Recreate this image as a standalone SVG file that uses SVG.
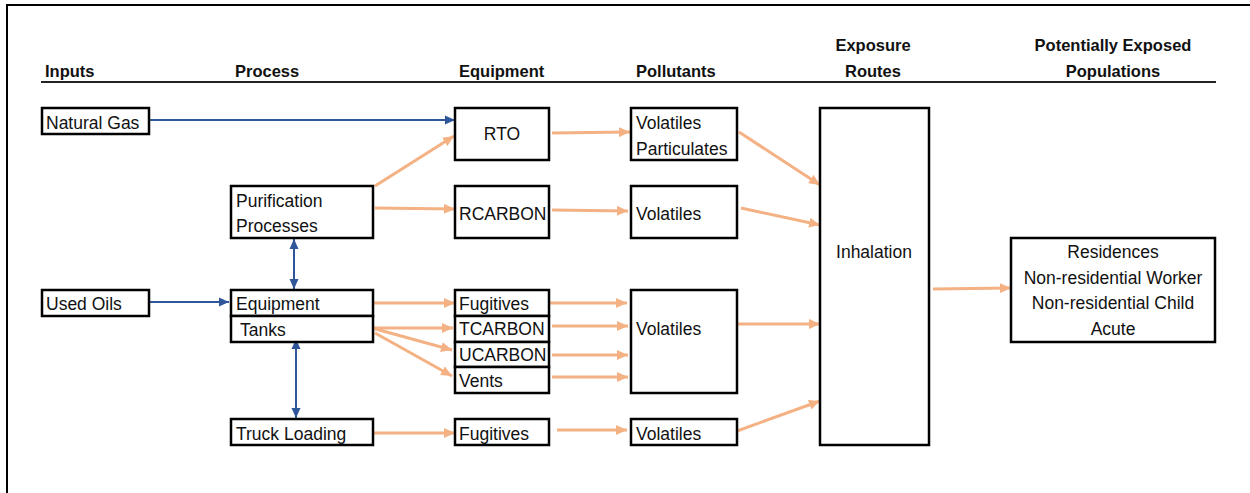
<svg xmlns="http://www.w3.org/2000/svg" width="1250" height="493" viewBox="0 0 1250 493">
<style>
  .box { fill: #ffffff; stroke: #000000; stroke-width: 2.5; }
  .t { font-family: "Liberation Sans", Arial, sans-serif; font-size: 17.5px; fill: #111111; }
  .c { text-anchor: middle; }
  .h { font-family: "Liberation Sans", Arial, sans-serif; font-size: 16.5px; font-weight: bold; fill: #111111; }
  .blue { stroke: #2F559A; stroke-width: 2; fill: none; }
  .orange { stroke: #F4B183; stroke-width: 3; fill: none; }
</style>
<defs>
  <marker id="ab" markerUnits="userSpaceOnUse" markerWidth="10" markerHeight="10" refX="10" refY="5" orient="auto-start-reverse">
    <path d="M0,0.5 L10,5 L0,9.5 z" fill="#2F559A"/>
  </marker>
  <marker id="ao" markerUnits="userSpaceOnUse" markerWidth="12" markerHeight="10" refX="11" refY="5" orient="auto">
    <path d="M0,0 L11,5 L0,10 z" fill="#F4B183"/>
  </marker>
</defs>
<rect width="1250" height="493" fill="#ffffff"/>
<path d="M7,493 L7,5 L1250,5" fill="none" stroke="#000" stroke-width="2"/>
<g id="headers">
  <text class="h" x="45" y="77">Inputs</text>
  <text class="h" x="235" y="77">Process</text>
  <text class="h" x="459" y="77">Equipment</text>
  <text class="h" x="636" y="77">Pollutants</text>
  <text class="h c" x="873" y="51">Exposure</text>
  <text class="h c" x="873" y="77">Routes</text>
  <text class="h c" x="1113" y="51">Potentially Exposed</text>
  <text class="h c" x="1113" y="77">Populations</text>
  <line x1="41" y1="82" x2="1216" y2="82" stroke="#222" stroke-width="2"/>
</g>
<g id="connectors">
  <line class="blue" x1="149" y1="120" x2="455" y2="120" marker-end="url(#ab)"/>
  <line class="blue" x1="145" y1="302" x2="229" y2="302" marker-end="url(#ab)"/>
  <line class="blue" x1="294" y1="239" x2="294" y2="289" marker-start="url(#ab)" marker-end="url(#ab)"/>
  <line class="blue" x1="296" y1="339" x2="296" y2="418" marker-start="url(#ab)" marker-end="url(#ab)"/>

  <line class="orange" x1="375" y1="186" x2="454" y2="136" marker-end="url(#ao)"/>
  <line class="orange" x1="375" y1="208" x2="455" y2="209" marker-end="url(#ao)"/>
  <line class="orange" x1="552" y1="133" x2="630" y2="132" marker-end="url(#ao)"/>
  <line class="orange" x1="552" y1="210" x2="628" y2="211" marker-end="url(#ao)"/>
  <line class="orange" x1="739" y1="132" x2="820" y2="185" marker-end="url(#ao)"/>
  <line class="orange" x1="741" y1="208" x2="820" y2="225" marker-end="url(#ao)"/>

  <line class="orange" x1="373" y1="303" x2="455" y2="303" marker-end="url(#ao)"/>
  <line class="orange" x1="372" y1="328" x2="453" y2="328" marker-end="url(#ao)"/>
  <line class="orange" x1="372" y1="328" x2="452" y2="350" marker-end="url(#ao)"/>
  <line class="orange" x1="375" y1="333" x2="452" y2="376" marker-end="url(#ao)"/>

  <line class="orange" x1="549" y1="303" x2="627" y2="303" marker-end="url(#ao)"/>
  <line class="orange" x1="552" y1="326" x2="628" y2="326" marker-end="url(#ao)"/>
  <line class="orange" x1="552" y1="355" x2="628" y2="355" marker-end="url(#ao)"/>
  <line class="orange" x1="552" y1="377" x2="628" y2="377" marker-end="url(#ao)"/>
  <line class="orange" x1="737" y1="324" x2="820" y2="324" marker-end="url(#ao)"/>

  <line class="orange" x1="373" y1="433" x2="455" y2="433" marker-end="url(#ao)"/>
  <line class="orange" x1="557" y1="430" x2="627" y2="430" marker-end="url(#ao)"/>
  <line class="orange" x1="737" y1="431" x2="820" y2="401" marker-end="url(#ao)"/>

  <line class="orange" x1="933" y1="289" x2="1011" y2="288" marker-end="url(#ao)"/>
</g>
<g id="natural-gas">
  <rect class="box" x="42" y="108" width="107" height="26"/>
  <text class="t" x="46" y="129">Natural Gas</text>
</g>
<g id="used-oils">
  <rect class="box" x="42" y="290" width="107" height="26"/>
  <text class="t" x="46" y="310">Used Oils</text>
</g>
<g id="purification">
  <rect class="box" x="231" y="186" width="142" height="52"/>
  <text class="t" x="236" y="207">Purification</text>
  <text class="t" x="236" y="232">Processes</text>
</g>
<g id="equipment">
  <rect class="box" x="231" y="290" width="142" height="26"/>
  <text class="t" x="236" y="310">Equipment</text>
</g>
<g id="tanks">
  <rect class="box" x="231" y="316" width="142" height="26"/>
  <text class="t" x="240" y="336">Tanks</text>
</g>
<g id="truck-loading">
  <rect class="box" x="231" y="419" width="142" height="26"/>
  <text class="t" x="236" y="440">Truck Loading</text>
</g>
<g id="rto">
  <rect class="box" x="455" y="108" width="94" height="52"/>
  <text class="t c" x="502" y="140">RTO</text>
</g>
<g id="rcarbon">
  <rect class="box" x="455" y="186" width="94" height="52"/>
  <text class="t" x="459" y="220">RCARBON</text>
</g>
<g id="fugitives">
  <rect class="box" x="455" y="290" width="94" height="26"/>
  <text class="t" x="459" y="310">Fugitives</text>
</g>
<g id="tcarbon">
  <rect class="box" x="455" y="316" width="94" height="26"/>
  <text class="t" x="459" y="335">TCARBON</text>
</g>
<g id="ucarbon">
  <rect class="box" x="455" y="342" width="94" height="25"/>
  <text class="t" x="459" y="361">UCARBON</text>
</g>
<g id="vents">
  <rect class="box" x="455" y="367" width="94" height="26"/>
  <text class="t" x="459" y="387">Vents</text>
</g>
<g id="fugitives-truck">
  <rect class="box" x="455" y="419" width="94" height="26"/>
  <text class="t" x="459" y="440">Fugitives</text>
</g>
<g id="volatiles-particulates">
  <rect class="box" x="631" y="108" width="106" height="52"/>
  <text class="t" x="636" y="129">Volatiles</text>
  <text class="t" x="636" y="155">Particulates</text>
</g>
<g id="volatiles-2">
  <rect class="box" x="631" y="186" width="106" height="52"/>
  <text class="t" x="636" y="220">Volatiles</text>
</g>
<g id="volatiles-3">
  <rect class="box" x="631" y="290" width="106" height="103"/>
  <text class="t" x="636" y="335">Volatiles</text>
</g>
<g id="volatiles-4">
  <rect class="box" x="631" y="419" width="106" height="26"/>
  <text class="t" x="636" y="440">Volatiles</text>
</g>
<g id="inhalation">
  <rect class="box" x="820" y="108" width="109" height="337"/>
  <text class="t c" x="874" y="258">Inhalation</text>
</g>
<g id="populations">
  <rect class="box" x="1011" y="238" width="204" height="104"/>
  <text class="t c" x="1113" y="258">Residences</text>
  <text class="t c" x="1113" y="284">Non-residential Worker</text>
  <text class="t c" x="1113" y="309">Non-residential Child</text>
  <text class="t c" x="1113" y="335">Acute</text>
</g>
</svg>
